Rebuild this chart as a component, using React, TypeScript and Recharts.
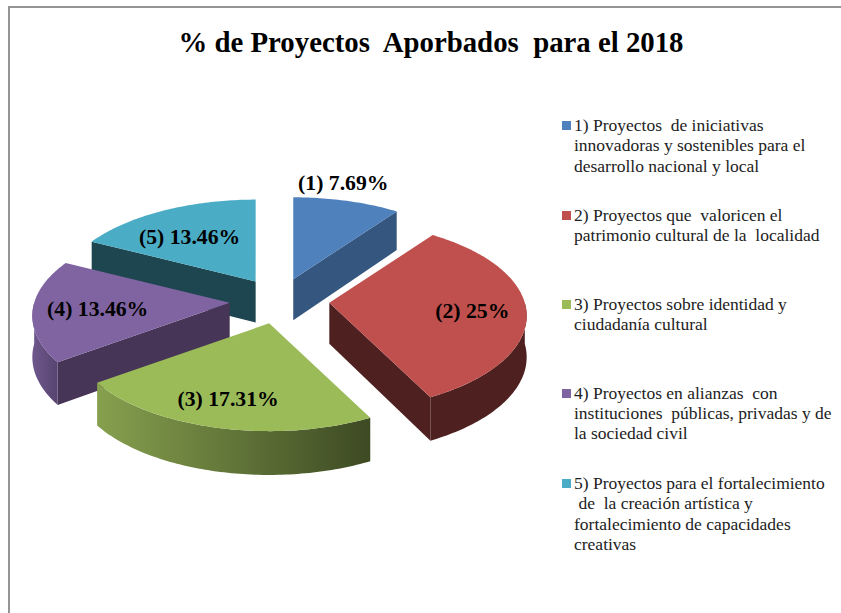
import React from 'react';
import { PieChart, Pie, Legend } from 'recharts';

const categories = ['(1)', '(2)', '(3)', '(4)', '(5)'];
const percents = [7.69, 25, 17.31, 13.46, 13.46];
const sliceLabels = ['(1) 7.69%', '(2) 25%', '(3) 17.31%', '(4) 13.46%', '(5) 13.46%'];
const legendLines = [
    ['1) Proyectos  de iniciativas', 'innovadoras y sostenibles para el', 'desarrollo nacional y local'],
    ['2) Proyectos que  valoricen el', 'patrimonio cultural de la  localidad'],
    ['3) Proyectos sobre identidad y', 'ciudadanía cultural'],
    ['4) Proyectos en alianzas  con', 'instituciones  públicas, privadas y de', 'la sociedad civil'],
    ['5) Proyectos para el fortalecimiento', ' de  la creación artística y', 'fortalecimiento de capacidades', 'creativas'],
];

const topColors = ['#4f81bd', '#c0504d', '#9bbb59', '#8064a2', '#4bacc6'];
const sideColors = ['#34567f', '#4e201f', '#5d7136', '#463556', '#1e4651'];
const rimFrom = ['#34567f', '#4e201f', '#86a04e', '#6f578d', '#1e4651'];
const rimTo = ['#34567f', '#4e201f', '#3d4a23', '#574470', '#1e4651'];
const labelOffsets = [[50, -96], [143, 8], [-41, 76], [-132, 6], [-66, -44]];
const legendTops = [115, 205, 294, 382.5, 473];

// drawn back to front: Recharts paints in data order, so go round counter-clockwise from slice 5
const table = categories.map((name, i) => ({ name, value: percents[i], idx: i })).reverse();

const FONT = '"Liberation Serif", serif';
const CX = 279.5;
const CY = 301;
const RADIUS = 195.5;
const FLATTEN = 93 / 195.5;
const PERSPECTIVE = 0.137;
const DEPTH = 41;
const EXPLODE_X = 50;
const EXPLODE_Y = 23;
const EXPLODE_NARROW = 0.12;

const rad = (deg: number) => (deg * Math.PI) / 180;

// clockwise angle from the top of the pie onto the tilted disc
function project(theta: number, r: number) {
    const w = 1 + PERSPECTIVE * Math.cos(rad(theta));
    return {
        x: (r * Math.sin(rad(theta))) / w,
        y: (-r * FLATTEN * Math.cos(rad(theta))) / w,
    };
}

// the wall looks taller towards the viewer
const depthAt = (theta: number) => DEPTH * (1 - 0.5 * PERSPECTIVE * Math.cos(rad(theta)));

function apexOf(cx: number, cy: number, mid: number) {
    const c = Math.cos(rad(mid));
    return {
        x: cx + EXPLODE_X * Math.sin(rad(mid)) * (1 - EXPLODE_NARROW * c * c),
        y: cy - EXPLODE_Y * c,
    };
}

function arcPoints(t1: number, t2: number, r: number, ox: number, oy: number, drop: boolean) {
    const pts: string[] = [];
    const steps = Math.max(2, Math.ceil(t2 - t1));
    for (let k = 0; k <= steps; k++) {
        const t = t1 + ((t2 - t1) * k) / steps;
        const p = project(t, r);
        const y = oy + p.y + (drop ? depthAt(t) : 0);
        pts.push(`${(ox + p.x).toFixed(2)},${y.toFixed(2)}`);
    }
    return pts;
}

function Slice3D(props: any) {
    const { cx, cy, outerRadius, startAngle, endAngle, payload } = props;
    const i = payload.idx;
    const t1 = 450 - endAngle;
    const t2 = 450 - startAngle;
    const mid = (t1 + t2) / 2;
    const { x: ax, y: ay } = apexOf(cx, cy, mid);
    const m = project(mid, outerRadius);

    // a straight side shows only when the slice top lies above it
    const sides = [t1, t2].filter(t => {
        const p = project(t, outerRadius);
        if (Math.abs(p.x) < 1) return false;
        return (p.y / p.x) * m.x > m.y;
    });

    const rimStart = Math.max(t1, 90);
    const rimEnd = Math.min(t2, 270);
    const gradId = `rim-${i}`;

    return (
        <g>
            <defs>
                <linearGradient id={gradId} x1="0" y1="0" x2="1" y2="0">
                    <stop offset="0%" stopColor={rimFrom[i]} />
                    <stop offset="100%" stopColor={rimTo[i]} />
                </linearGradient>
            </defs>
            {sides.map(t => {
                const p = project(t, outerRadius);
                return (
                    <polygon
                        key={t}
                        fill={sideColors[i]}
                        points={`${ax},${ay} ${ax + p.x},${ay + p.y} ${ax + p.x},${ay + p.y + depthAt(t)} ${ax},${ay + DEPTH}`}
                    />
                );
            })}
            {rimEnd > rimStart && (
                <polygon
                    fill={`url(#${gradId})`}
                    points={[
                        ...arcPoints(rimStart, rimEnd, outerRadius, ax, ay, false),
                        ...arcPoints(rimStart, rimEnd, outerRadius, ax, ay, true).reverse(),
                    ].join(' ')}
                />
            )}
            <polygon
                fill={topColors[i]}
                points={[`${ax},${ay}`, ...arcPoints(t1, t2, outerRadius, ax, ay, false)].join(' ')}
            />
        </g>
    );
}

function renderLabel(props: any) {
    const { cx, cy, midAngle, index } = props;
    const row = table[index];
    const mid = 450 - midAngle;
    const { x, y } = apexOf(cx, cy, mid);
    const [dx, dy] = labelOffsets[row.idx];
    return (
        <text
            key={row.name}
            x={x + dx}
            y={y + dy}
            textAnchor="middle"
            dominantBaseline="central"
            fontFamily={FONT}
            fontWeight="bold"
            fontSize={21.7}
            fill="#000"
        >
            {sliceLabels[row.idx]}
        </text>
    );
}

function renderLegend() {
    return (
        <div style={{ position: 'relative', width: 279, height: 460, fontFamily: FONT, fontSize: 17.5, lineHeight: '20.4px', color: '#222' }}>
            {legendLines.map((lines, i) => (
                <div key={i} style={{ position: 'absolute', left: 0, top: legendTops[i] - legendTops[0], whiteSpace: 'pre' }}>
                    <span style={{ position: 'absolute', left: 0, top: 6, width: 9, height: 9, background: topColors[i] }} />
                    {lines.map(line => (
                        <div key={line} style={{ marginLeft: 12 }}>{line}</div>
                    ))}
                </div>
            ))}
        </div>
    );
}

export default function App(): JSX.Element {
    return (
        <div style={{ position: 'absolute', left: 0, top: 0, width: 841, height: 613, background: '#fff', overflow: 'hidden' }}>
            <div style={{ position: 'absolute', left: 8, top: 6, width: 840, height: 620, borderLeft: '2px solid #949494', borderTop: '2px solid #949494' }} />
            <PieChart width={841} height={613} margin={{ top: 0, right: 0, bottom: 0, left: 0 }} style={{ position: 'absolute', left: 0, top: 0 }}>
                <text x={431} y={42} textAnchor="middle" dominantBaseline="central" fontFamily={FONT} fontWeight="bold" fontSize={28.8} fill="#000" style={{ whiteSpace: 'pre' }}>
                    % de Proyectos  Aporbados  para el 2018
                </text>
                <Pie
                    data={table}
                    dataKey="value"
                    nameKey="name"
                    cx={CX}
                    cy={CY}
                    innerRadius={0}
                    outerRadius={RADIUS}
                    startAngle={90}
                    endAngle={450}
                    stroke="none"
                    shape={Slice3D}
                    label={renderLabel}
                    labelLine={false}
                    isAnimationActive={false}
                />
                <Legend content={renderLegend} wrapperStyle={{ position: 'absolute', left: 562, top: legendTops[0], width: 279 }} />
            </PieChart>
        </div>
    );
}
